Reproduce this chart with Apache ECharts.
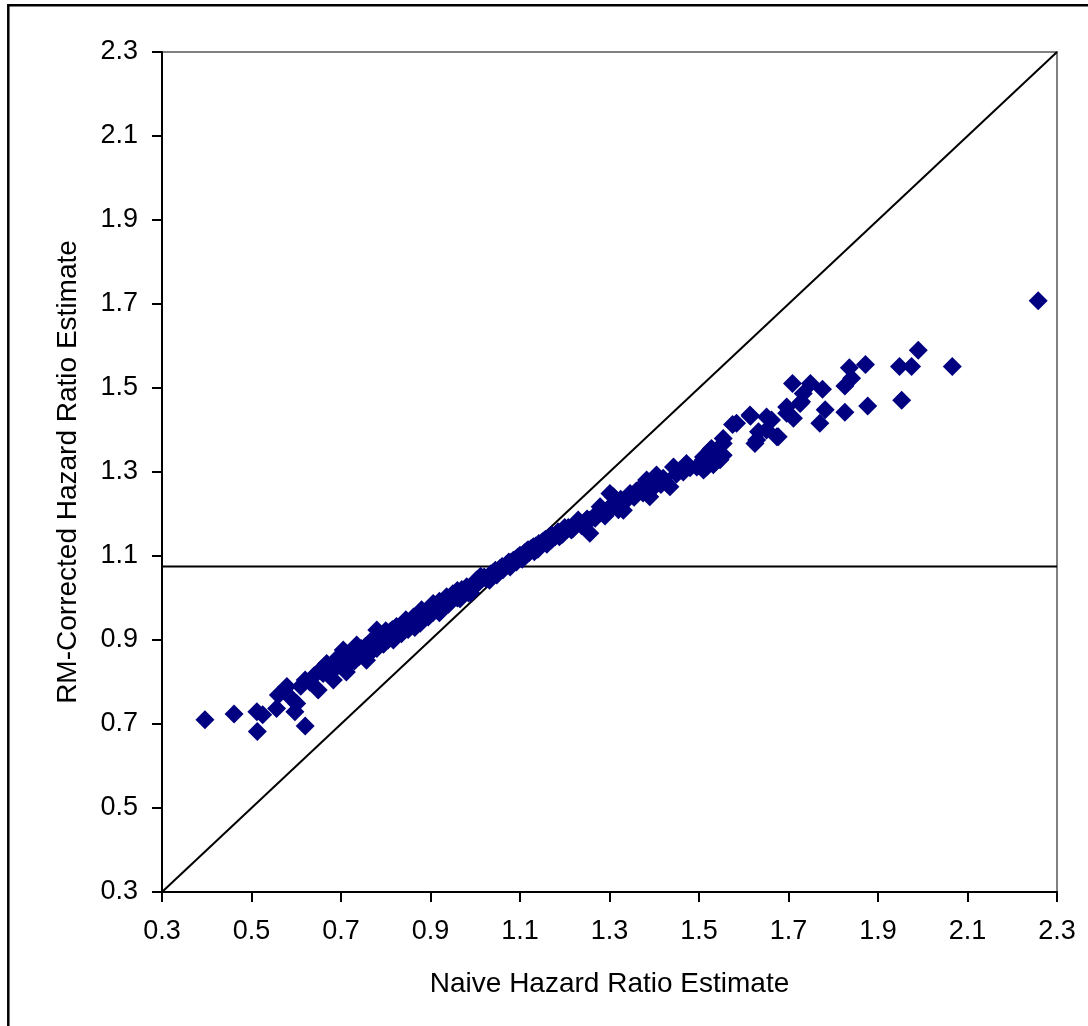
<!DOCTYPE html>
<html>
<head>
<meta charset="utf-8">
<script src="https://cdn.jsdelivr.net/npm/echarts@6/dist/echarts.min.js"></script>
<style>
html,body{margin:0;padding:0;background:#fff;}
#chart{width:1088px;height:1026px;}
</style>
</head>
<body>
<div id="chart"></div>
<script>
// Naive hazard ratio estimates (x) and RM-corrected estimates (y)
const naiveHR = [
0.396,0.461,0.513,0.512,0.525,0.556,0.620,0.597,0.560,0.579,0.601,0.590,0.649,0.620,0.610,0.668,0.683,0.640,0.660,0.705,
0.712,0.690,0.700,0.720,0.757,0.735,0.740,0.750,0.770,0.787,0.780,0.765,0.817,0.780,0.800,0.810,0.824,0.835,0.845,0.862,
0.877,0.855,0.870,0.890,0.885,0.900,0.906,0.915,0.925,0.936,0.945,0.955,0.966,0.981,0.975,0.990,1.003,1.000,1.010,1.020,
1.030,1.040,1.045,1.055,1.060,1.070,1.075,1.085,1.095,1.100,1.110,1.118,1.125,1.135,1.142,1.150,1.158,1.165,1.172,1.182,
1.190,1.198,1.205,1.212,1.222,1.234,1.245,1.250,1.256,1.264,1.272,1.286,1.295,1.301,1.308,1.315,1.331,1.325,1.346,1.355,
1.368,1.383,1.390,1.395,1.405,1.415,1.435,1.443,1.458,1.472,1.495,1.510,1.510,1.517,1.525,1.532,1.510,1.528,1.547,1.554,
1.554,1.575,1.554,1.615,1.633,1.625,1.651,1.662,1.677,1.696,1.711,1.709,1.729,1.733,1.749,1.776,1.770,1.782,1.826,1.826,
1.841,1.836,1.872,1.877,1.953,1.948,1.975,1.990,2.066,2.258,
1.651,1.614,1.584,1.629,1.674,1.726,1.696,1.428,1.383,1.346,1.309,1.279,1.249,1.547,
0.630,0.655,0.675,0.685,0.695,0.715,0.725,0.730,0.745,0.755,0.760,0.775,0.790,0.795,0.805,0.815,0.825,0.840,0.850,0.860,
0.865,0.880,0.895,0.905,0.910,0.920,0.930,0.940,0.950,0.960,0.970,0.985,0.995,1.005,1.015,1.025,1.035,1.050,1.065,1.080,
1.090,1.105,1.115,1.130,1.145,1.155,1.170,1.178,1.185,1.195,1.208,1.218,1.228,1.238,1.255,1.268,1.278,1.290,1.300,1.320,
1.335,1.360,1.375,1.400,1.420,1.450,1.465,1.480,1.500,
0.960,0.990,1.012,1.032,1.062,1.092,1.120,1.140,1.170,1.200,1.230,0.920,0.880,0.845,0.800,
1.048,1.078,1.105,1.132,1.160,1.188,1.215,1.242,0.942,0.972
];
const correctedHR = [
0.710,0.724,0.682,0.729,0.722,0.737,0.695,0.729,0.769,0.789,0.749,0.760,0.781,0.805,0.790,0.844,0.805,0.815,0.820,0.876,
0.824,0.835,0.850,0.845,0.852,0.888,0.860,0.870,0.875,0.892,0.880,0.895,0.900,0.924,0.910,0.920,0.932,0.915,0.935,0.955,
0.940,0.945,0.950,0.960,0.950,0.970,0.987,0.975,0.985,1.003,0.995,1.005,0.998,1.027,1.015,1.025,1.043,1.030,1.040,1.050,
1.052,1.060,1.066,1.070,1.075,1.080,1.086,1.090,1.097,1.102,1.108,1.115,1.118,1.124,1.130,1.134,1.140,1.143,1.147,1.150,
1.156,1.160,1.163,1.166,1.172,1.178,1.180,1.188,1.154,1.193,1.196,1.201,1.210,1.249,1.217,1.225,1.209,1.235,1.245,1.240,
1.261,1.273,1.241,1.280,1.293,1.270,1.265,1.312,1.305,1.320,1.312,1.305,1.329,1.312,1.352,1.317,1.336,1.356,1.336,1.340,
1.368,1.413,1.380,1.433,1.396,1.368,1.400,1.424,1.384,1.455,1.428,1.511,1.467,1.487,1.511,1.497,1.416,1.448,1.442,1.505,
1.523,1.548,1.556,1.457,1.471,1.551,1.551,1.590,1.551,1.708,
1.431,1.436,1.416,1.376,1.384,1.463,1.440,1.273,1.281,1.249,1.241,1.217,1.186,1.329,
0.800,0.830,0.830,0.845,0.860,0.860,0.870,0.850,0.880,0.885,0.865,0.900,0.905,0.890,0.900,0.925,0.915,0.930,0.925,0.940,
0.930,0.965,0.955,0.965,0.980,0.965,0.990,0.985,1.010,1.000,1.020,1.012,1.030,1.035,1.045,1.045,1.058,1.062,1.072,1.085,
1.092,1.100,1.112,1.122,1.128,1.138,1.150,1.145,1.158,1.152,1.168,1.165,1.178,1.172,1.185,1.190,1.205,1.195,1.215,1.210,
1.230,1.255,1.250,1.265,1.285,1.295,1.300,1.310,1.315,
1.018,1.012,1.052,1.042,1.067,1.086,1.108,1.116,1.138,1.168,1.186,0.992,0.972,0.948,0.922,
1.055,1.074,1.092,1.110,1.128,1.146,1.162,1.178,0.988,1.008
];
// Reference lines
const identityLine = [[0.3, 0.3], [2.3, 2.3]];
const meanLevel = 1.075;
const axisMin = 0.3, axisMax = 2.3;
const tickValues = [0.3, 0.5, 0.7, 0.9, 1.1, 1.3, 1.5, 1.7, 1.9, 2.1, 2.3];
const xTitle = 'Naive Hazard Ratio Estimate';
const yTitle = 'RM-Corrected Hazard Ratio Estimate';

const points = naiveHR.map((x, i) => [x, correctedHR[i]]);
const meanLine = [[axisMin, meanLevel], [axisMax, meanLevel]];

const FONT = "'Liberation Sans', Arial, sans-serif";
const chart = echarts.init(document.getElementById('chart'), null, {renderer: 'canvas'});
const axisCommon = {
  type: 'value', min: axisMin, max: axisMax,
  axisLine: {show: true, onZero: false, lineStyle: {color: '#000', width: 2}},
  axisTick: {show: true, inside: false, length: 10, lineStyle: {color: '#000', width: 2}, customValues: tickValues},
  axisLabel: {color: '#000', fontFamily: FONT, fontSize: 27, customValues: tickValues,
              formatter: v => Number(v).toFixed(1)},
  splitLine: {show: false},
  nameLocation: 'middle',
  nameTextStyle: {color: '#000', fontFamily: FONT, fontSize: 28}
};
chart.setOption({
  animation: false,
  backgroundColor: '#fff',
  grid: {left: 162, right: 31, top: 52, bottom: 134, show: true, borderColor: '#808080', borderWidth: 2, backgroundColor: 'transparent'},
  xAxis: Object.assign({}, axisCommon, {
    name: xTitle, nameGap: 78,
    axisLabel: Object.assign({}, axisCommon.axisLabel, {margin: 26})
  }),
  yAxis: Object.assign({}, axisCommon, {
    name: yTitle, nameGap: 80,
    axisLabel: Object.assign({}, axisCommon.axisLabel, {margin: 24})
  }),
  graphic: [{
    type: 'rect', silent: true, z: 100,
    shape: {x: 8.3, y: 5.3, width: 1200, height: 1200},
    style: {fill: 'none', stroke: '#000', lineWidth: 2.5}
  }],
  series: [
    {type: 'line', data: identityLine, symbol: 'none', lineStyle: {color: '#000', width: 2}, z: 1},
    {type: 'line', data: meanLine, symbol: 'none', lineStyle: {color: '#000', width: 2}, z: 1},
    {type: 'scatter', data: points, symbol: 'diamond', symbolSize: 19,
     itemStyle: {color: '#000080', opacity: 1}, z: 2}
  ]
});
</script>
</body>
</html>
